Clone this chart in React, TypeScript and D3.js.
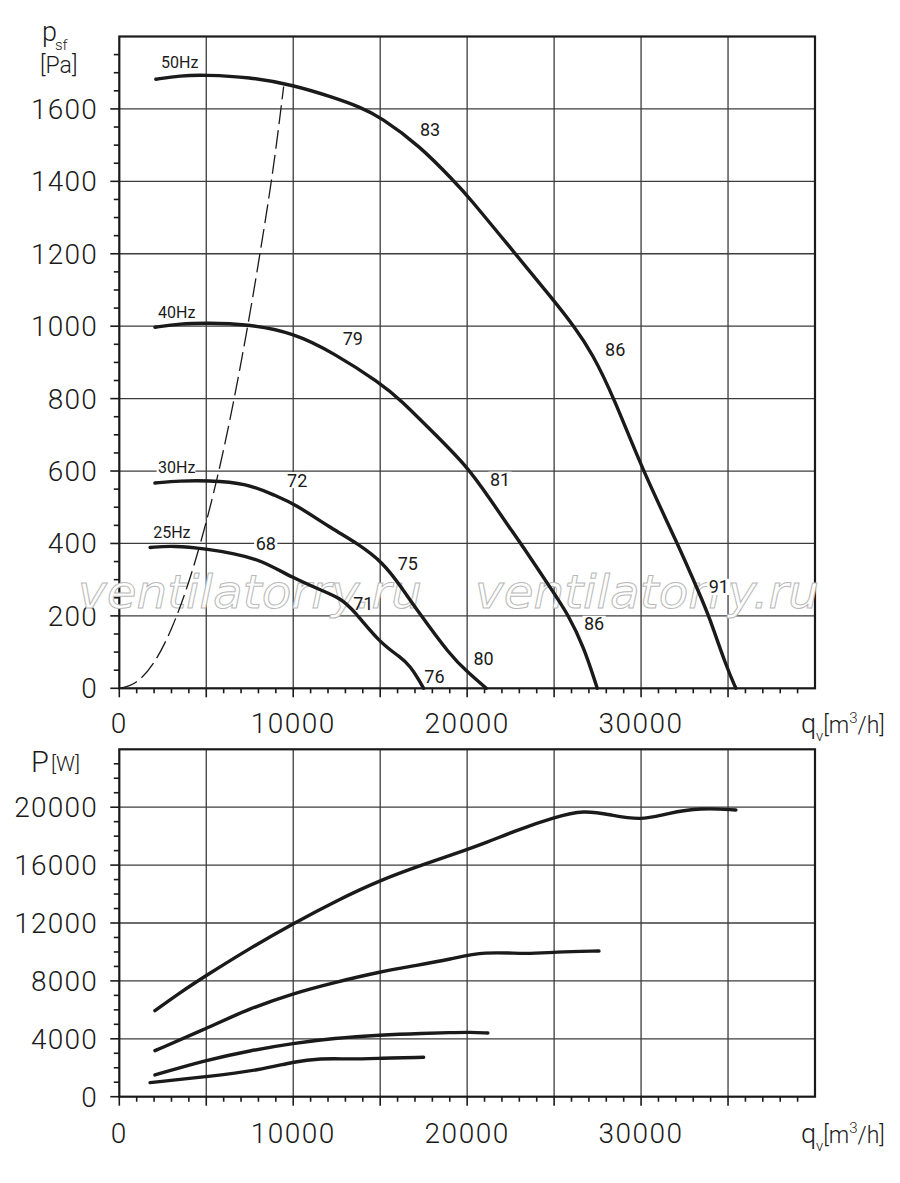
import * as d3 from "d3";

// ---- data ----
const qTicks = [0, 10000, 20000, 30000];
const pTicks = [0, 200, 400, 600, 800, 1000, 1200, 1400, 1600];
const wTicks = [0, 4000, 8000, 12000, 16000, 20000];

// pressure curves [qv m3/h, psf Pa]
const fan50: [number, number][] = [
  [2100, 1682], [3500, 1692], [4900, 1694], [7500, 1688], [10000, 1666], [12300, 1632],
  [13850, 1605], [15000, 1578], [17300, 1497], [19230, 1401], [20000, 1362], [22680, 1205],
  [25000, 1070], [26140, 1000], [27200, 925], [28440, 802], [30070, 604], [32090, 401],
  [33430, 253], [33900, 200], [34900, 60], [35450, 0],
];
const fan40: [number, number][] = [
  [2050, 997], [3500, 1007], [5030, 1009], [7330, 1006], [10020, 982], [12320, 926],
  [15010, 843], [16160, 797], [18080, 705], [20000, 613], [21340, 521], [22490, 440],
  [23070, 401], [24990, 263], [25760, 207], [26710, 115], [27480, 0],
];
const fan30: [number, number][] = [
  [2050, 567], [3500, 573], [5030, 574], [7330, 567], [9060, 530], [10020, 511],
  [12320, 438], [13670, 401], [15200, 346], [16200, 280], [17120, 216], [19040, 90],
  [20000, 46], [21100, 0],
];
const fan25: [number, number][] = [
  [1770, 389], [3110, 394], [5030, 385], [6600, 372], [8100, 355], [10020, 304],
  [11550, 272], [12710, 249], [13470, 216], [15010, 124], [16160, 87], [16740, 60],
  [17200, 25], [17500, 0],
];
const systemLine: [number, number][] = [
  [0, 0], [1000, 18], [2000, 72], [3000, 165], [4000, 295], [5000, 460], [6000, 660],
  [7000, 900], [8000, 1175], [9000, 1490], [9450, 1662],
];

// power curves [qv m3/h, P W]
const pow50: [number, number][] = [
  [2050, 5940], [3500, 7200], [5030, 8400], [7500, 10250], [10020, 11980], [12500, 13550],
  [15010, 14970], [17700, 16130], [19040, 16670], [21000, 17500], [22880, 18430],
  [25030, 19310], [26710, 19800], [28250, 19470], [29980, 19080], [31510, 19580],
  [33430, 19960], [35450, 19810],
];
const pow40: [number, number][] = [
  [2050, 3180], [5030, 4725], [7500, 6100], [10020, 7145], [12320, 7880], [15010, 8640],
  [17000, 9050], [19040, 9500], [20960, 10040], [23450, 9840], [25030, 10000], [27580, 10070],
];
const pow30: [number, number][] = [
  [2050, 1500], [5030, 2536], [7500, 3180], [10020, 3690], [12320, 4036], [15010, 4263],
  [17500, 4380], [19040, 4430], [20190, 4460], [21190, 4400],
];
const pow25: [number, number][] = [
  [1770, 970], [5030, 1380], [8100, 1845], [10020, 2419], [11550, 2653], [13280, 2590],
  [15010, 2653], [17500, 2722],
];

// curve labels [text, qv, psf, anchor, white background]
const curveLabels: [string, number, number, string, boolean][] = [
  ["50Hz", 2400, 1729, "start", false],
  ["40Hz", 2230, 1039, "start", false],
  ["30Hz", 2230, 610, "start", true],
  ["25Hz", 1950, 431, "start", false],
  ["83", 17870, 1544, "middle", false],
  ["79", 13430, 966, "middle", false],
  ["86", 28510, 935, "middle", false],
  ["72", 10230, 575, "middle", true],
  ["81", 21890, 576, "middle", true],
  ["68", 8420, 400, "middle", true],
  ["75", 16590, 345, "middle", false],
  ["71", 14030, 234, "middle", false],
  ["86", 27300, 178, "middle", true],
  ["91", 34470, 280, "middle", true],
  ["80", 20940, 82, "middle", false],
  ["76", 18120, 33, "middle", false],
];

const FONT = "Roboto, 'DejaVu Sans', sans-serif";
const INK = "#1a1a1a";
const GRID = "#3c3c3c";

const x = d3.scaleLinear().domain([0, 40000]).range([119.3, 815]);
const yP = d3.scaleLinear().domain([0, 1800]).range([688.3, 36.5]);
const yW = d3.scaleLinear().domain([0, 24000]).range([1096.7, 749.3]);

const linePa = d3.line<[number, number]>().x(d => x(d[0])).y(d => yP(d[1])).curve(d3.curveBasis);
const lineW = d3.line<[number, number]>().x(d => x(d[0])).y(d => yW(d[1])).curve(d3.curveBasis);
const lineSys = d3.line<[number, number]>().x(d => x(d[0])).y(d => yP(d[1])).curve(d3.curveMonotoneX);

function Panel({ y, step, yTickStep, yLabels }: { y: d3.ScaleLinear<number, number>; step: number; yTickStep: number; yLabels: number[] }) {
  const [, y1] = y.domain();
  const left = x(0), right = x(40000), top = y(y1), bottom = y(0);
  const vGrid = d3.range(5000, 40000, 5000);
  const hGrid = d3.range(step, y1, step);
  const xt = d3.range(0, 40000, 1000);
  const yt = d3.range(0, y1, yTickStep);
  return (
    <g>
      {vGrid.map(v => (
        <line key={"v" + v} x1={x(v)} x2={x(v)} y1={top} y2={bottom} stroke={GRID} strokeWidth={1.3} />
      ))}
      {hGrid.map(v => (
        <line key={"h" + v} x1={left} x2={right} y1={y(v)} y2={y(v)} stroke={GRID} strokeWidth={1.3} />
      ))}
      {xt.map(v => (
        <line key={"xt" + v} x1={x(v)} x2={x(v)} y1={bottom} y2={bottom + (v % 5000 === 0 ? 9 : 5)} stroke={INK} strokeWidth={1.6} />
      ))}
      {yt.map(v => (
        <line key={"yt" + v} x1={left - (v % step === 0 ? 9 : 5.5)} x2={left} y1={y(v)} y2={y(v)} stroke={INK} strokeWidth={1.6} />
      ))}
      <rect x={left} y={top} width={right - left} height={bottom - top} fill="none" stroke={INK} strokeWidth={2.2} />
      {yLabels.map(v => (
        <text key={"yl" + v} x={98} y={y(v) + 10} textAnchor="end" fontSize={28} letterSpacing={1.2} fill={INK} fontWeight={300}>
          {v}
        </text>
      ))}
    </g>
  );
}

function Watermark({ x0 }: { x0: number }) {
  return (
    <text x={x0} y={608} fontFamily="'DejaVu Sans', sans-serif" fontStyle="italic" fontSize={46}
      textLength={344} lengthAdjust="spacingAndGlyphs" fill="#ffffff" stroke="#b9b9b9" strokeWidth={1}>
      ventilatorry.ru
    </text>
  );
}

function QvLabel({ baseline }: { baseline: number }) {
  return (
    <text x={801} y={baseline} fontSize={23} fill={INK} fontWeight={300}>
      <tspan fontSize={27}>q</tspan>
      <tspan fontSize={15} dy={8}>v</tspan>
      <tspan dy={-8}>[m</tspan>
      <tspan fontSize={15} dy={-10}>3</tspan>
      <tspan dy={10}>/h]</tspan>
    </text>
  );
}

export default function App() {
  const curves = [fan50, fan40, fan30, fan25];
  const powers = [pow50, pow40, pow30, pow25];
  return (
    <svg width={900} height={1183} viewBox="0 0 900 1183" fontFamily={FONT}
      style={{ position: "absolute", left: 0, top: 0, display: "block", background: "#fff" }}>
      <rect x={0} y={0} width={900} height={1183} fill="#fff" />

      {/* upper panel: static pressure */}
      <Panel y={yP} step={200} yTickStep={50} yLabels={pTicks} />
      <Watermark x0={78} />
      <Watermark x0={475} />
      <path d={lineSys(systemLine) ?? ""} fill="none" stroke={INK} strokeWidth={1.3} strokeDasharray="19 6" />
      {curves.map((c, i) => (
        <path key={"c" + i} d={linePa(c) ?? ""} fill="none" stroke={INK} strokeWidth={3.4} strokeLinecap="round" />
      ))}
      {curveLabels.map(([t, q, p, anchor, bg], i) => {
        const fs = t.includes("Hz") ? 16 : 18;
        const w = t.length * fs * 0.56 + 3;
        const cx = x(q);
        const cy = yP(p);
        const rx = anchor === "start" ? cx - 1.5 : cx - w / 2;
        return (
          <g key={"l" + i}>
            {bg && <rect x={rx} y={cy - fs * 0.45} width={w} height={fs * 0.9} fill="#fff" />}
            <text x={cx} y={cy + fs * 0.36} textAnchor={anchor} fontSize={fs} fill={INK}>{t}</text>
          </g>
        );
      })}
      <text x={42} y={41} fontSize={27} fill={INK} fontWeight={300}>p</text>
      <text x={55} y={50} fontSize={15} fill={INK} fontWeight={300}>sf</text>
      <text x={40} y={73} fontSize={23} fill={INK} fontWeight={300}>[Pa]</text>
      {qTicks.map(v => (
        <text key={"xq" + v} x={x(v)} y={733} textAnchor="middle" fontSize={28} letterSpacing={1.5} fill={INK} fontWeight={300}>{v}</text>
      ))}
      <QvLabel baseline={733} />

      {/* lower panel: power */}
      <Panel y={yW} step={4000} yTickStep={1000} yLabels={wTicks} />
      {powers.map((c, i) => (
        <path key={"w" + i} d={lineW(c) ?? ""} fill="none" stroke={INK} strokeWidth={3.4} strokeLinecap="round" />
      ))}
      <text x={31} y={772} fontSize={29} fill={INK} fontWeight={300}>P</text>
      <text x={51} y={771} fontSize={21} fill={INK} fontWeight={300}>[W]</text>
      {qTicks.map(v => (
        <text key={"xw" + v} x={x(v)} y={1143} textAnchor="middle" fontSize={28} letterSpacing={1.5} fill={INK} fontWeight={300}>{v}</text>
      ))}
      <QvLabel baseline={1143} />
    </svg>
  );
}
